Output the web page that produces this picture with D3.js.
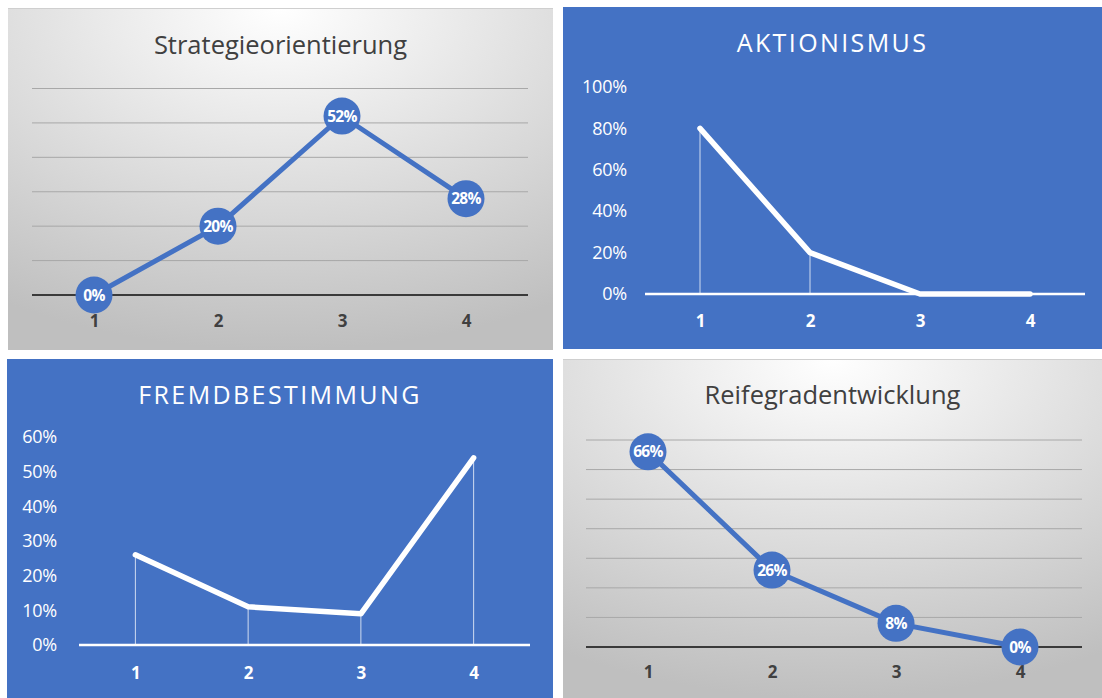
<!DOCTYPE html>
<html><head><meta charset="utf-8">
<script src="https://cdn.jsdelivr.net/npm/d3@7"></script>
<style>
html,body{margin:0;padding:0;background:#fff;}
svg{display:block;}
</style></head>
<body>
<svg id="c" width="1102" height="698"></svg>
<script>
// ---- data ----
const categories = ["1", "2", "3", "4"];
const strategieValues = [0.00, 0.20, 0.52, 0.28];
const aktionismusValues = [0.80, 0.20, 0.00, 0.00];
const fremdValues = [0.26, 0.11, 0.09, 0.54];
const reifeValues = [0.66, 0.26, 0.08, 0.00];
const strategieGrid = [0.1, 0.2, 0.3, 0.4, 0.5, 0.6];
const aktionismusTicks = [0, 0.2, 0.4, 0.6, 0.8, 1.0];
const fremdTicks = [0, 0.1, 0.2, 0.3, 0.4, 0.5, 0.6];
const reifeGrid = [0.1, 0.2, 0.3, 0.4, 0.5, 0.6, 0.7];
const titles = ["Strategieorientierung", "AKTIONISMUS", "FREMDBESTIMMUNG", "Reifegradentwicklung"];

const BLUE = "#4472C4";
const svg = d3.select("#c");
const defs = svg.append("defs");
const rg = defs.append("radialGradient").attr("id", "gray")
  .attr("cx", "50%").attr("cy", "0%").attr("r", "100%")
  .attr("fx", "50%").attr("fy", "0%");
rg.append("stop").attr("offset", "0%").attr("stop-color", "#ffffff");
rg.append("stop").attr("offset", "45%").attr("stop-color", "#e2e2e2");
rg.append("stop").attr("offset", "100%").attr("stop-color", "#bfbfbf");

const FONT = "'Open Sans', 'Noto Sans', sans-serif";
const fmt = d3.format(".0%");

function grayPanel(cfg) {
  const g = svg.append("g");
  g.append("rect").attr("x", cfg.box[0]).attr("y", cfg.box[1])
    .attr("width", cfg.box[2]).attr("height", cfg.box[3]).attr("fill", "url(#gray)");
  g.append("line").attr("x1", cfg.box[0]).attr("x2", cfg.box[0] + cfg.box[2])
    .attr("y1", cfg.box[1] + 0.5).attr("y2", cfg.box[1] + 0.5).attr("stroke", "#cfcfcf");
  const x = d3.scalePoint().domain(categories).range(cfg.xr).padding(0.5);
  const y = d3.scaleLinear().domain(cfg.yd).range(cfg.yr);
  g.selectAll(".grid").data(cfg.grid).join("line")
    .attr("x1", cfg.xr[0]).attr("x2", cfg.xr[1])
    .attr("y1", d => y(d)).attr("y2", d => y(d))
    .attr("stroke", "#a8a8a8").attr("stroke-width", 1);
  g.append("line").attr("x1", cfg.xr[0]).attr("x2", cfg.xr[1])
    .attr("y1", y(0)).attr("y2", y(0)).attr("stroke", "#3a3a3a").attr("stroke-width", 2);
  const ax = g.append("g").attr("transform", `translate(0,${y(0)})`)
    .call(d3.axisBottom(x).tickSize(0).tickPadding(cfg.tickPad));
  ax.select(".domain").remove();
  ax.selectAll("text").attr("font-family", FONT).style("font-size", "17px")
    .attr("font-weight", "bold").attr("fill", "#404040");
  const line = d3.line().x((d, i) => x(categories[i])).y(d => y(d));
  g.append("path").datum(cfg.values).attr("d", line).attr("fill", "none")
    .attr("stroke", BLUE).attr("stroke-width", 5);
  g.selectAll(".m").data(cfg.values).join("circle")
    .attr("cx", (d, i) => x(categories[i])).attr("cy", d => y(d)).attr("r", 18.5)
    .attr("fill", BLUE);
  g.selectAll(".lab").data(cfg.values).join("text")
    .attr("x", (d, i) => x(categories[i])).attr("y", d => y(d)).attr("dy", "0.36em")
    .attr("text-anchor", "middle").attr("font-family", FONT).style("font-size", "15.5px")
    .attr("font-weight", "bold").attr("fill", "#fff").attr("letter-spacing", "-0.7")
    .text(d => fmt(d));
  g.append("text").attr("x", cfg.box[0] + cfg.box[2] / 2).attr("y", cfg.titleY)
    .attr("text-anchor", "middle").attr("font-family", FONT).style("font-size", "25.5px")
    .attr("fill", "#404040").text(cfg.title);
}

function bluePanel(cfg) {
  const g = svg.append("g");
  g.append("rect").attr("x", cfg.box[0]).attr("y", cfg.box[1])
    .attr("width", cfg.box[2]).attr("height", cfg.box[3]).attr("fill", BLUE);
  const x = d3.scalePoint().domain(categories).range(cfg.xr).padding(0.5);
  const y = d3.scaleLinear().domain(cfg.yd).range(cfg.yr);
  const ya = g.append("g").attr("transform", `translate(${cfg.yAxisX},0)`)
    .call(d3.axisLeft(y).tickValues(cfg.ticks).tickFormat(fmt).tickSize(0).tickPadding(0));
  ya.select(".domain").remove();
  ya.selectAll("text").attr("font-family", FONT).style("font-size", "18px")
    .attr("fill", "#fff").attr("letter-spacing", "-0.2");
  g.selectAll(".drop").data(cfg.values).join("line")
    .attr("x1", (d, i) => x(categories[i])).attr("x2", (d, i) => x(categories[i]))
    .attr("y1", d => y(d)).attr("y2", y(0))
    .attr("stroke", "#fff").attr("stroke-width", 1).attr("stroke-opacity", 0.75);
  g.append("line").attr("x1", cfg.xr[0]).attr("x2", cfg.xr[1])
    .attr("y1", y(0)).attr("y2", y(0)).attr("stroke", "#fff").attr("stroke-width", 2.5);
  const ax = g.append("g").attr("transform", `translate(0,${y(0)})`)
    .call(d3.axisBottom(x).tickSize(0).tickPadding(cfg.tickPad));
  ax.select(".domain").remove();
  ax.selectAll("text").attr("font-family", FONT).style("font-size", "17px")
    .attr("font-weight", "bold").attr("fill", "#fff");
  const line = d3.line().x((d, i) => x(categories[i])).y(d => y(d));
  g.append("path").datum(cfg.values).attr("d", line).attr("fill", "none")
    .attr("stroke", "#fff").attr("stroke-width", 5.5).attr("stroke-linecap", "round")
    .attr("stroke-linejoin", "round");
  g.append("text").attr("x", cfg.box[0] + cfg.box[2] / 2).attr("y", cfg.titleY)
    .attr("text-anchor", "middle").attr("font-family", FONT).style("font-size", "25px")
    .attr("fill", "#fff").attr("letter-spacing", "2.4").text(cfg.title);
}

grayPanel({box: [8, 8, 545, 342], xr: [32, 528], yd: [0, 0.6], yr: [295, 88.5],
  grid: strategieGrid, values: strategieValues, title: titles[0], titleY: 54, tickPad: 20});
bluePanel({box: [563, 7, 539, 342], xr: [645, 1085], yd: [0, 1], yr: [294, 87],
  ticks: aktionismusTicks, values: aktionismusValues, title: titles[1], titleY: 52,
  yAxisX: 627, tickPad: 21});
bluePanel({box: [7, 359, 546, 339], xr: [79, 530], yd: [0, 0.6], yr: [645, 437],
  ticks: fremdTicks, values: fremdValues, title: titles[2], titleY: 404,
  yAxisX: 57, tickPad: 22});
grayPanel({box: [563, 359, 539, 339], xr: [586, 1082], yd: [0, 0.7], yr: [647, 440],
  grid: reifeGrid, values: reifeValues, title: titles[3], titleY: 404, tickPad: 19});
</script>
</body></html>
